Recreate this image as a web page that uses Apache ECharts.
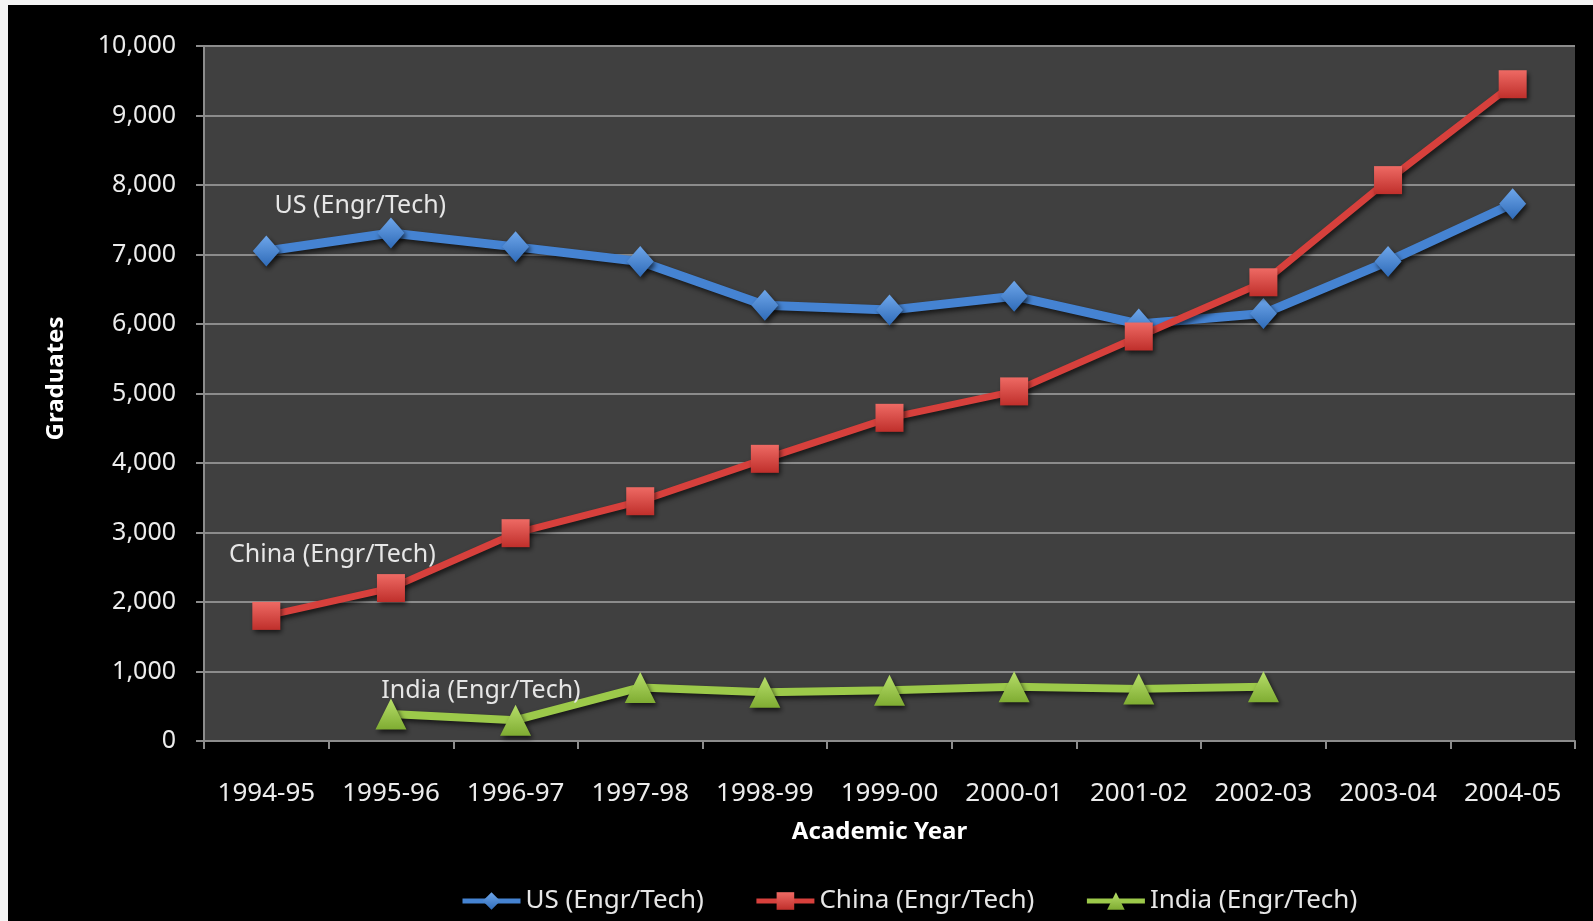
<!DOCTYPE html>
<html>
<head>
<meta charset="utf-8">
<title>Engineering/Technology graduates</title>
<script src="https://cdn.jsdelivr.net/npm/echarts@6/dist/echarts.min.js"></script>
<style>
  html, body { margin: 0; padding: 0; background: #f4f4f4; }
  #chart {
    position: absolute;
    left: 8px;
    top: 5px;
    width: 1585px;
    height: 916px;
    background: #000;
  }
</style>
</head>
<body>
<div id="chart"></div>
<script>
  // academic years on the x axis
  const years = ['1994-95', '1995-96', '1996-97', '1997-98', '1998-99', '1999-00',
                 '2000-01', '2001-02', '2002-03', '2003-04', '2004-05']
  // graduates per year
  const usValues    = [7050, 7310, 7110, 6900, 6270, 6200, 6400, 6000, 6150, 6900, 7730]
  const chinaValues = [1800, 2200, 2990, 3450, 4060, 4650, 5030, 5820, 6600, 8070, 9450]
  const indiaValues = [null, 390, 300, 770, 700, 730, 780, 750, 780, null, null]
  const seriesNames = ['US (Engr/Tech)', 'China (Engr/Tech)', 'India (Engr/Tech)']

  const font = "'Noto Sans', 'Open Sans', sans-serif"
  const chart = echarts.init(document.getElementById('chart'))

  // put the series name as a text label next to one point of the line
  function withLabel(values, idx, offset) {
    return values.map((v, i) => {
      if (v === null) return '-'
      if (i !== idx) return v
      return {
        value: v,
        label: {
          show: true,
          position: 'inside',
          offset: offset,
          formatter: '{a}',
          color: '#e6e6e6',
          fontSize: 25,
          fontFamily: font
        }
      }
    })
  }

  function grad(light, dark) {
    return new echarts.graphic.LinearGradient(0, 0, 0, 1, [
      {offset: 0, color: light},
      {offset: 1, color: dark}
    ])
  }

  const shadow = {
    shadowColor: 'rgba(0,0,0,0.65)',
    shadowBlur: 5,
    shadowOffsetX: 2,
    shadowOffsetY: 3
  }

  const option = {
    backgroundColor: '#000',
    animation: false,
    grid: {
      left: 196,
      right: 18,
      top: 41,
      bottom: 180,
      show: true,
      backgroundColor: '#404040',
      borderWidth: 0
    },
    legend: {
      bottom: 2,
      left: 447,
      itemWidth: 58,
      itemHeight: 22,
      itemGap: 50,
      lineStyle: {width: 5, shadowBlur: 0, shadowOffsetX: 0, shadowOffsetY: 0},
      textStyle: {color: '#e6e6e6', fontSize: 26, fontFamily: font},
      data: seriesNames
    },
    xAxis: {
      type: 'category',
      data: years,
      boundaryGap: true,
      name: 'Academic Year',
      nameLocation: 'middle',
      nameGap: 79,
      nameTextStyle: {color: '#ffffff', fontSize: 24, fontWeight: 'bold', fontFamily: font, padding: [0, 20, 0, 0]},
      axisLine: {lineStyle: {color: '#8c8c8c', width: 2}},
      axisTick: {show: true, interval: 0, length: 8, lineStyle: {color: '#8c8c8c', width: 2}},
      axisLabel: {color: '#ececec', fontSize: 26, fontFamily: font, margin: 40, interval: 0, hideOverlap: false},
      splitLine: {show: false}
    },
    yAxis: {
      type: 'value',
      min: 0,
      max: 10000,
      interval: 1000,
      name: 'Graduates',
      nameLocation: 'middle',
      nameGap: 136,
      nameTextStyle: {color: '#ffffff', fontSize: 24, fontWeight: 'bold', fontFamily: font, padding: [0, 0, 0, 30]},
      axisLine: {show: true, lineStyle: {color: '#8c8c8c', width: 2}},
      axisTick: {show: true, length: 8, lineStyle: {color: '#8c8c8c', width: 2}},
      axisLabel: {
        color: '#ececec',
        fontSize: 25,
        fontFamily: font,
        margin: 28,
        formatter: v => v.toLocaleString('en-US')
      },
      splitLine: {lineStyle: {color: '#8c8c8c', width: 2}}
    },
    series: [
      {
        name: seriesNames[0],
        type: 'line',
        data: withLabel(usValues, 0, [94, -45]),
        symbol: 'diamond',
        symbolSize: [27, 31],
        lineStyle: {color: '#4583d2', width: 9, ...shadow},
        itemStyle: {color: grad('#6ea6ea', '#2f6bb8'), borderWidth: 0, ...shadow},
        z: 3
      },
      {
        name: seriesNames[1],
        type: 'line',
        data: withLabel(chinaValues, 0, [66, -61]),
        symbol: 'rect',
        symbolSize: 28,
        lineStyle: {color: '#d7403c', width: 7, ...shadow},
        itemStyle: {color: grad('#ee6a64', '#bf2f2b'), borderWidth: 0, ...shadow},
        z: 4
      },
      {
        name: seriesNames[2],
        type: 'line',
        data: withLabel(indiaValues, 1, [90, -23]),
        symbol: 'triangle',
        symbolSize: [31, 31],
        connectNulls: false,
        lineStyle: {color: '#9cc94a', width: 8, ...shadow},
        itemStyle: {color: grad('#b7df6a', '#7fac32'), borderWidth: 0, ...shadow},
        z: 5
      }
    ]
  }

  chart.setOption(option)
  window.addEventListener('resize', () => chart.resize())
</script>
</body>
</html>
